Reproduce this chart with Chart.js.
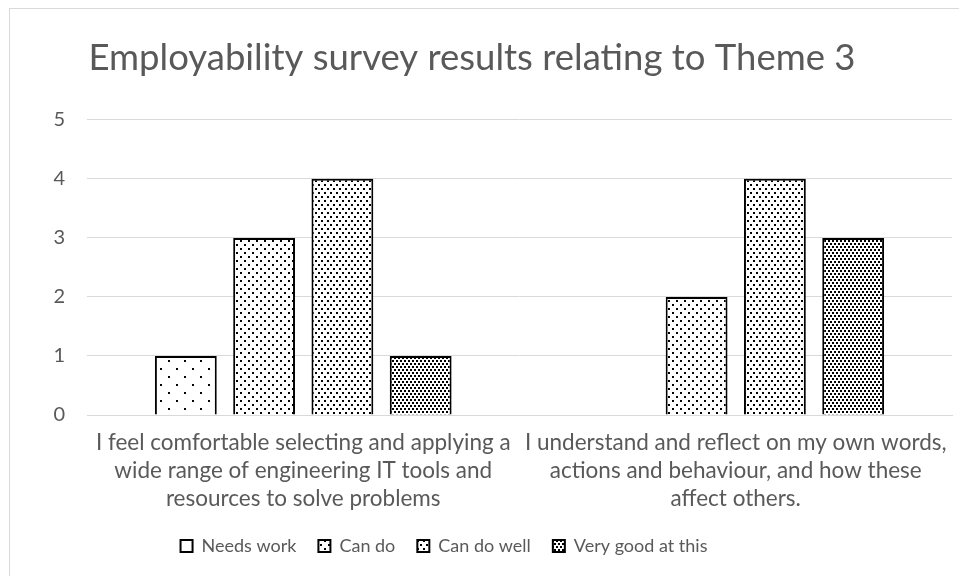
<!DOCTYPE html>
<html>
<head>
<meta charset="utf-8">
<script src="https://cdn.jsdelivr.net/npm/chart.js@4.4.1/dist/chart.umd.min.js"></script>
<style>
  html, body { margin: 0; padding: 0; background: #fff; overflow: hidden; }
  #frame { position: absolute; left: 9px; top: 8px; width: 960px; height: 580px; border: 1px solid #d9d9d9; }
  #wrap { position: absolute; left: 0; top: 0; width: 959px; height: 576px; }
</style>
</head>
<body>
<div id="frame"></div>
<div id="wrap"><canvas id="chart"></canvas></div>
<script>
// Data
const categories = [
    ['I feel comfortable selecting and applying a', 'wide range of engineering IT tools and', 'resources to solve problems'],
    ['I understand and reflect on my own words,', 'actions and behaviour, and how these', 'affect others.']
];
const seriesNames = ['Needs work', 'Can do', 'Can do well', 'Very good at this'];
const needsWork = [1, 0];
const canDo = [3, 2];
const canDoWell = [4, 4];
const veryGood = [1, 3];
const yTicks = [0, 1, 2, 3, 4, 5];

const TEXT = '#595959';
const GRID = '#d9d9d9';
const FONT = 'Lato';

// dotted fill patterns, denser for each step up
function dotPattern(w, h, dots, size) {
    const c = document.createElement('canvas');
    c.width = w;
    c.height = h;
    const g = c.getContext('2d');
    g.fillStyle = '#fff';
    g.fillRect(0, 0, w, h);
    g.fillStyle = '#000';
    dots.forEach(d => g.fillRect(d[0], d[1], size, size));
    return g.createPattern(c, 'repeat');
}

const ctx = document.getElementById('chart').getContext('2d');
const patterns = [
    dotPattern(16, 16, [[0, 0], [8, 8]], 2),
    dotPattern(8, 8, [[0, 0], [4, 4]], 2),
    dotPattern(6, 8, [[0, 0], [3, 4]], 2),
    dotPattern(4, 6, [[0, 0], [2, 3]], 2)
];

const values = [needsWork, canDo, canDoWell, veryGood];

// the legend and title sit a little left of the canvas centre
const nudgeBoxes = {
    id: 'nudgeBoxes',
    afterLayout(chart) {
        if (chart.legend) {
            chart.legend.right -= 64;
            chart.legend.width -= 64;
        }
        if (chart.titleBlock) {
            chart.titleBlock.right -= 8;
            chart.titleBlock.width -= 8;
        }
    }
};

new Chart(ctx, {
    type: 'bar',
    data: {
        labels: categories,
        datasets: seriesNames.map((name, i) => ({
            label: name,
            data: values[i],
            backgroundColor: patterns[i],
            borderColor: '#000',
            borderWidth: 2,
            categoryPercentage: 0.724,
            barPercentage: 0.79
        }))
    },
    plugins: [nudgeBoxes],
    options: {
        responsive: true,
        maintainAspectRatio: false,
        animation: false,
        devicePixelRatio: 1,
        layout: { padding: { left: 0, right: 7, top: 0, bottom: 11 } },
        plugins: {
            title: {
                display: true,
                text: 'Employability survey results relating to Theme 3',
                color: TEXT,
                font: { family: FONT, size: 36.5, weight: 'normal', lineHeight: 1.2 },
                padding: { top: 36, bottom: 40 }
            },
            legend: {
                position: 'bottom',
                labels: {
                    color: TEXT,
                    font: { family: FONT, size: 18 },
                    boxWidth: 12,
                    boxHeight: 12,
                    padding: 22
                }
            },
            tooltip: { enabled: false }
        },
        scales: {
            x: {
                grid: { display: false },
                border: { color: GRID, width: 1 },
                ticks: {
                    color: TEXT,
                    font: { family: FONT, size: 22.5, lineHeight: '28px' },
                    padding: 6,
                    maxRotation: 0,
                    autoSkip: false
                },
                afterFit: s => { s.height = 100; }
            },
            y: {
                min: 0,
                max: 5,
                afterBuildTicks: s => { s.ticks = yTicks.map(v => ({ value: v })); },
                grid: { color: GRID, lineWidth: 1, drawTicks: false },
                border: { display: false },
                ticks: {
                    color: TEXT,
                    font: { family: FONT, size: 20 },
                    padding: 22
                },
                afterFit: s => { s.width = 87; }
            }
        }
    }
});
</script>
</body>
</html>
